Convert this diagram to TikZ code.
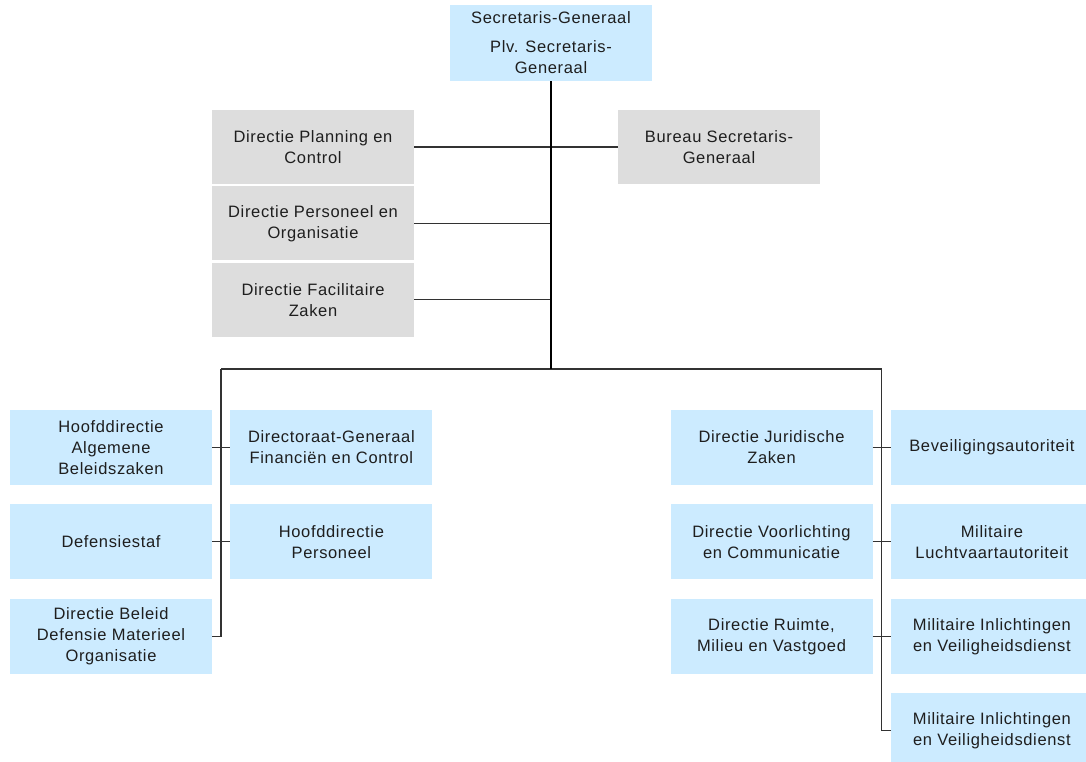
\documentclass[tikz,border=0pt]{standalone}
\usepackage{fontspec}
\setmainfont{Liberation Sans}[LetterSpace=4.0]
\usetikzlibrary{positioning}
\definecolor{unitblue}{RGB}{204,235,255}
\definecolor{staffgray}{RGB}{221,221,221}
\definecolor{textgray}{RGB}{30,30,30}
\definecolor{linegray}{RGB}{50,50,50}

\begin{document}
\begin{tikzpicture}[x=1pt, y=1pt,
    unit/.style={fill=unitblue, text=textgray, align=center, inner sep=0pt,
      minimum width=202pt, minimum height=75pt, font=\fontsize{16.5}{21}\selectfont},
    staff/.style={unit, fill=staffgray, minimum height=74pt},
    conn/.style={draw=linegray, line width=1.1pt},
    trunk/.style={draw=black, line width=1.8pt},]
    \useasboundingbox (0,0) rectangle (1086,-761);

    \node[unit, minimum height=76pt] (sg) at (551,-43) {Secretaris-Generaal\\[8pt]Plv. Secretaris-\\Generaal};

    \node[staff] (dpc) at (313,-147) {Directie Planning en\\Control};
    \node[staff, below=2pt of dpc] (dpo) {Directie Personeel en\\Organisatie};
    \node[staff, below=2pt of dpo] (dfz) {Directie Facilitaire\\Zaken};
    \node[staff] (bsg) at (719,-147) {Bureau Secretaris-\\Generaal};

    \node[unit] (hab) at (111,-447.5) {Hoofddirectie\\Algemene\\Beleidszaken};
    \node[unit, below=19pt of hab] (def) {Defensiestaf};
    \node[unit, below=19pt of def] (dbd) {Directie Beleid\\Defensie Materieel\\Organisatie};
    \node[unit, right=18pt of hab] (dgf) {Directoraat-Generaal\\Financiën en Control};
    \node[unit, below=19pt of dgf] (hdp) {Hoofddirectie\\Personeel};

    \node[unit] (djz) at (771.5,-447.5) {Directie Juridische\\Zaken};
    \node[unit, below=19pt of djz] (dvc) {Directie Voorlichting\\en Communicatie};
    \node[unit, below=19pt of dvc] (drm) {Directie Ruimte,\\Milieu en Vastgoed};
    \node[unit, right=18pt of djz] (bva) {Beveiligingsautoriteit};
    \node[unit, below=19pt of bva] (mla) {Militaire\\Luchtvaartautoriteit};
    \node[unit, below=19pt of mla] (mivd) {Militaire Inlichtingen\\en Veiligheidsdienst};
    \node[unit, below=19pt of mivd] (mivdb) {Militaire Inlichtingen\\en Veiligheidsdienst};

    \coordinate (bus) at (551,-369);
    \coordinate (busl) at (221,-369);
    \coordinate (busr) at (881.5,-369);

    \draw[conn] (dpc.east) -- (bsg.west);
    \draw[conn] (dpo.east) -- (dpo.east -| bus);
    \draw[conn] (dfz.east) -- (dfz.east -| bus);
    \draw[conn] (busl) -- (busr);
    \draw[trunk] (sg.south) -- (bus);

    \draw[conn] (busl) |- (dbd.east);
    \draw[conn] (hab.east) -- (dgf.west);
    \draw[conn] (def.east) -- (hdp.west);

    \draw[conn] (busr) |- (mivdb.west);
    \draw[conn] (djz.east) -- (bva.west);
    \draw[conn] (dvc.east) -- (mla.west);
    \draw[conn] (drm.east) -- (mivd.west);
\end{tikzpicture}
\end{document}
